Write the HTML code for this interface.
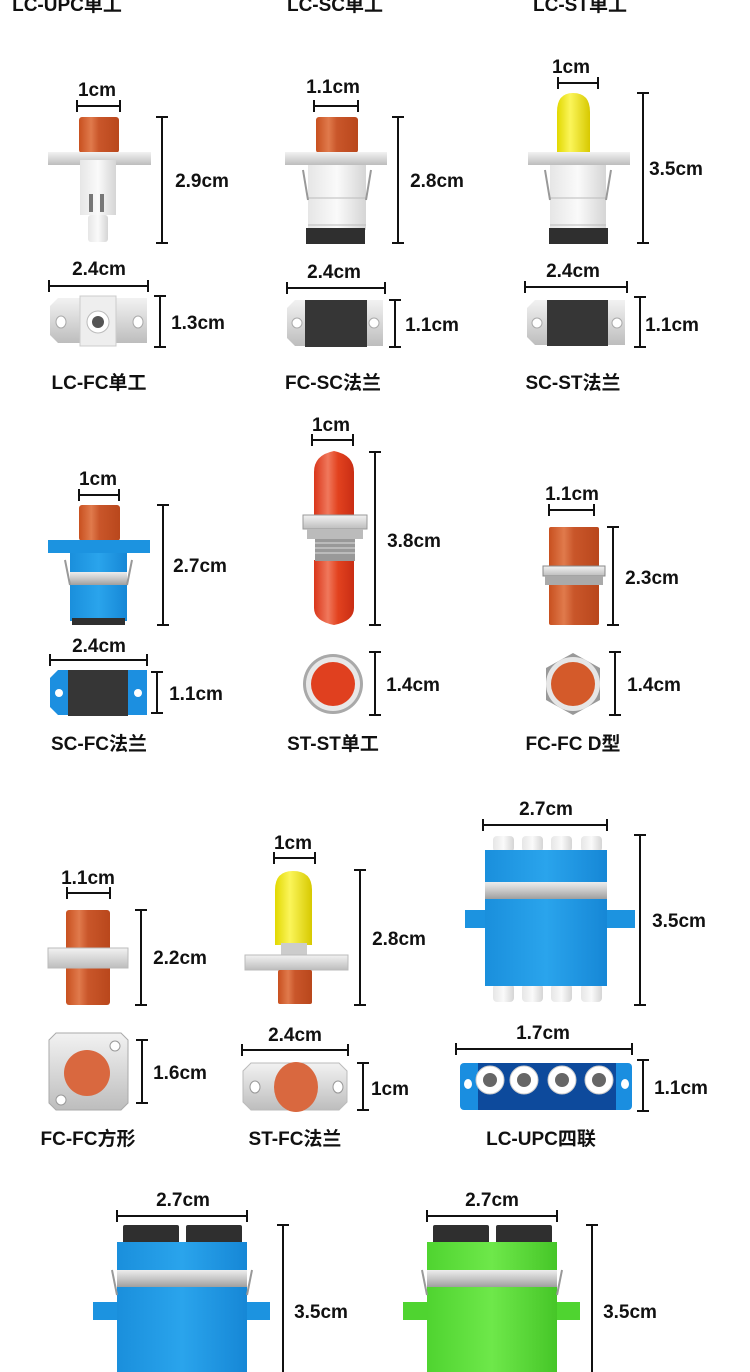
<!DOCTYPE html>
<html><head><meta charset="utf-8"><style>
html,body{margin:0;padding:0;background:#fff;}
svg{display:block}
text{font-family:"Liberation Sans","Noto Sans CJK SC",sans-serif;font-weight:bold;font-size:19px;fill:#111;text-anchor:middle;}
.d{stroke:#111;stroke-width:2;fill:none}
</style></head><body>
<svg width="750" height="1372" viewBox="0 0 750 1372" xmlns="http://www.w3.org/2000/svg">
<defs>
<linearGradient id="or" x1="0" x2="1"><stop offset="0" stop-color="#c8501f"/><stop offset=".3" stop-color="#e07a4c"/><stop offset=".5" stop-color="#c9562a"/><stop offset="1" stop-color="#b9471c"/></linearGradient>
<linearGradient id="rd" x1="0" x2="1"><stop offset="0" stop-color="#d9361a"/><stop offset=".35" stop-color="#f0785c"/><stop offset=".6" stop-color="#e2421f"/><stop offset="1" stop-color="#c92d14"/></linearGradient>
<linearGradient id="ye" x1="0" x2="1"><stop offset="0" stop-color="#e2d800"/><stop offset=".4" stop-color="#fbf55a"/><stop offset="1" stop-color="#d7c900"/></linearGradient>
<linearGradient id="si" x1="0" y1="0" x2="0" y2="1"><stop offset="0" stop-color="#f2f2f2"/><stop offset=".5" stop-color="#d8d8d8"/><stop offset="1" stop-color="#bdbdbd"/></linearGradient>
<linearGradient id="wh" x1="0" x2="1"><stop offset="0" stop-color="#e6e6e6"/><stop offset=".5" stop-color="#fafafa"/><stop offset="1" stop-color="#d5d5d5"/></linearGradient>
<linearGradient id="bl" x1="0" x2="1"><stop offset="0" stop-color="#1a8fdc"/><stop offset=".5" stop-color="#2aa4ec"/><stop offset="1" stop-color="#1687d6"/></linearGradient>
<linearGradient id="gr" x1="0" x2="1"><stop offset="0" stop-color="#4fd430"/><stop offset=".5" stop-color="#6ee84a"/><stop offset="1" stop-color="#46c628"/></linearGradient>
<linearGradient id="band" x1="0" y1="0" x2="0" y2="1"><stop offset="0" stop-color="#ededed"/><stop offset=".5" stop-color="#c8c8c8"/><stop offset="1" stop-color="#9f9f9f"/></linearGradient>
</defs>

<text x="67" y="11">LC-UPC单工</text>
<text x="335" y="11">LC-SC单工</text>
<text x="580" y="11">LC-ST单工</text>

<!-- A -->
<text x="97" y="96">1cm</text>
<path class="d" d="M77 106H120M77 100V112M120 100V112"/>
<rect x="79" y="117" width="40" height="36" rx="3" fill="url(#or)"/>
<rect x="48" y="152" width="103" height="13" fill="url(#si)"/>
<rect x="80" y="160" width="36" height="55" fill="url(#wh)"/>
<rect x="89" y="194" width="4" height="18" fill="#777"/><rect x="100" y="194" width="4" height="18" fill="#777"/>
<rect x="88" y="215" width="20" height="27" rx="3" fill="url(#wh)"/>
<path class="d" d="M162 117V243M156 117H168M156 243H168"/>
<text x="202" y="187">2.9cm</text>
<text x="99" y="275">2.4cm</text>
<path class="d" d="M49 286H148M49 280V292M148 280V292"/>
<path d="M58 298H147V343H58L50 335V306Z" fill="url(#si)"/>
<rect x="80" y="296" width="36" height="50" fill="#eee" stroke="#ccc"/>
<circle cx="98" cy="322" r="11" fill="#fff" stroke="#bbb"/><circle cx="98" cy="322" r="6" fill="#555"/>
<ellipse cx="61" cy="322" rx="5" ry="6" fill="#fff" stroke="#aaa"/><ellipse cx="138" cy="322" rx="5" ry="6" fill="#fff" stroke="#aaa"/>
<path class="d" d="M160 296V347M154 296H166M154 347H166"/>
<text x="198" y="329">1.3cm</text>
<text x="99" y="389">LC-FC单工</text>

<!-- B -->
<text x="333" y="93">1.1cm</text>
<path class="d" d="M314 106H358M314 100V112M358 100V112"/>
<rect x="316" y="117" width="42" height="36" rx="3" fill="url(#or)"/>
<rect x="285" y="152" width="102" height="13" fill="url(#si)"/>
<rect x="308" y="165" width="58" height="65" fill="url(#wh)"/>
<path d="M308 198H366M308 225H366" stroke="#bbb"/>
<path d="M303 170L308 200M371 170L366 200" stroke="#999" stroke-width="2"/>
<rect x="306" y="228" width="59" height="16" fill="#2f2f2f"/>
<path class="d" d="M398 117V243M392 117H404M392 243H404"/>
<text x="437" y="187">2.8cm</text>
<text x="334" y="278">2.4cm</text>
<path class="d" d="M287 288H385M287 282V294M385 282V294"/>
<path d="M295 300H383V346H295L287 338V308Z" fill="url(#si)"/>
<rect x="305" y="300" width="62" height="47" fill="#363636"/>
<circle cx="297" cy="323" r="5" fill="#fff" stroke="#aaa"/><circle cx="374" cy="323" r="5" fill="#fff" stroke="#aaa"/>
<path class="d" d="M395 300V347M389 300H401M389 347H401"/>
<text x="432" y="331">1.1cm</text>
<text x="333" y="389">FC-SC法兰</text>

<!-- C -->
<text x="571" y="73">1cm</text>
<path class="d" d="M558 83H598M558 77V89M598 77V89"/>
<path d="M557 153V112Q557 93 573 93Q590 93 590 112V153Z" fill="url(#ye)"/>
<rect x="528" y="152" width="102" height="13" fill="url(#si)"/>
<rect x="550" y="165" width="56" height="65" fill="url(#wh)"/>
<path d="M550 198H606M550 225H606" stroke="#bbb"/>
<path d="M545 170L550 200M611 170L606 200" stroke="#999" stroke-width="2"/>
<rect x="549" y="228" width="59" height="16" fill="#2f2f2f"/>
<path class="d" d="M643 93V243M637 93H649M637 243H649"/>
<text x="676" y="175">3.5cm</text>
<text x="573" y="277">2.4cm</text>
<path class="d" d="M525 287H627M525 281V293M627 281V293"/>
<path d="M535 300H625V345H535L527 337V308Z" fill="url(#si)"/>
<rect x="547" y="300" width="61" height="46" fill="#363636"/>
<circle cx="537" cy="323" r="5" fill="#fff" stroke="#aaa"/><circle cx="617" cy="323" r="5" fill="#fff" stroke="#aaa"/>
<path class="d" d="M640 297V347M634 297H646M634 347H646"/>
<text x="672" y="331">1.1cm</text>
<text x="573" y="389">SC-ST法兰</text>

<!-- D -->
<text x="98" y="485">1cm</text>
<path class="d" d="M79 495H119M79 489V501M119 489V501"/>
<rect x="79" y="505" width="41" height="36" rx="3" fill="url(#or)"/>
<rect x="48" y="540" width="102" height="13" fill="#1c93e0"/>
<rect x="70" y="553" width="57" height="68" fill="url(#bl)"/>
<rect x="70" y="572" width="57" height="13" fill="url(#band)"/>
<path d="M65 560L70 585M132 560L127 585" stroke="#999" stroke-width="2"/>
<rect x="72" y="618" width="53" height="7" fill="#2f2f2f"/>
<path class="d" d="M163 505V625M157 505H169M157 625H169"/>
<text x="200" y="572">2.7cm</text>
<text x="99" y="652">2.4cm</text>
<path class="d" d="M50 660H147M50 654V666M147 654V666"/>
<path d="M58 670H147V715H58L50 707V678Z" fill="#1c8fe0"/>
<rect x="68" y="670" width="60" height="46" fill="#363636"/>
<circle cx="59" cy="693" r="4" fill="#fff"/><circle cx="138" cy="693" r="4" fill="#fff"/>
<path class="d" d="M157 672V713M151 672H163M151 713H163"/>
<text x="196" y="700">1.1cm</text>
<text x="99" y="750">SC-FC法兰</text>

<!-- E -->
<text x="331" y="431">1cm</text>
<path class="d" d="M312 440H353M312 434V446M353 434V446"/>
<path d="M314 518V472Q314 455 334 451Q354 455 354 472V518Z" fill="url(#rd)"/>
<path d="M314 560V608Q314 621 334 625Q354 621 354 608V560Z" fill="url(#rd)"/>
<rect x="303" y="515" width="64" height="14" fill="url(#si)" stroke="#999"/>
<rect x="307" y="529" width="56" height="10" fill="#bbb"/>
<rect x="315" y="539" width="40" height="22" fill="#999"/>
<path d="M315 543H355M315 548H355M315 553H355" stroke="#ddd"/>
<path class="d" d="M375 452V625M369 452H381M369 625H381"/>
<text x="414" y="547">3.8cm</text>
<circle cx="333" cy="684" r="30" fill="#a9a9a9"/><circle cx="333" cy="684" r="27" fill="#e8e8e8"/>
<circle cx="333" cy="684" r="22" fill="#e0401f"/>
<path class="d" d="M375 652V715M369 652H381M369 715H381"/>
<text x="413" y="691">1.4cm</text>
<text x="333" y="750">ST-ST单工</text>

<!-- F -->
<text x="572" y="500">1.1cm</text>
<path class="d" d="M549 510H594M549 504V516M594 504V516"/>
<rect x="549" y="527" width="50" height="98" rx="2" fill="url(#or)"/>
<rect x="543" y="566" width="62" height="10" fill="url(#si)" stroke="#888"/>
<rect x="545" y="576" width="58" height="9" fill="#aaa"/>
<path class="d" d="M613 527V625M607 527H619M607 625H619"/>
<text x="652" y="584">2.3cm</text>
<polygon points="573,653 600,668 600,700 573,715 546,700 546,668" fill="#999"/>
<circle cx="573" cy="684" r="27" fill="#e6e6e6"/>
<circle cx="573" cy="684" r="22" fill="#d45a2a"/>
<path class="d" d="M615 652V715M609 652H621M609 715H621"/>
<text x="654" y="691">1.4cm</text>
<text x="573" y="750">FC-FC D型</text>

<!-- G -->
<text x="88" y="884">1.1cm</text>
<path class="d" d="M67 893H110M67 887V899M110 887V899"/>
<rect x="66" y="910" width="44" height="95" rx="3" fill="url(#or)"/>
<rect x="48" y="948" width="80" height="20" fill="url(#si)" stroke="#bbb"/>
<path class="d" d="M141 910V1005M135 910H147M135 1005H147"/>
<text x="180" y="964">2.2cm</text>
<path d="M56 1033H121L128 1040V1103L121 1110H56L49 1103V1040Z" fill="url(#si)" stroke="#aaa"/>
<circle cx="87" cy="1073" r="23" fill="#d9683f"/>
<circle cx="115" cy="1046" r="5" fill="#fff" stroke="#999"/><circle cx="61" cy="1100" r="5" fill="#fff" stroke="#999"/>
<path class="d" d="M142 1040V1103M136 1040H148M136 1103H148"/>
<text x="180" y="1079">1.6cm</text>
<text x="88" y="1145">FC-FC方形</text>

<!-- H -->
<text x="293" y="849">1cm</text>
<path class="d" d="M274 858H315M274 852V864M315 852V864"/>
<path d="M275 945V890Q275 871 293 871Q312 871 312 890V945Z" fill="url(#ye)"/>
<rect x="281" y="943" width="26" height="13" fill="#ccc"/>
<rect x="245" y="955" width="103" height="15" fill="url(#si)" stroke="#bbb"/>
<rect x="278" y="970" width="34" height="34" rx="2" fill="url(#or)"/>
<path class="d" d="M360 870V1005M354 870H366M354 1005H366"/>
<text x="399" y="945">2.8cm</text>
<text x="295" y="1041">2.4cm</text>
<path class="d" d="M242 1050H348M242 1044V1056M348 1044V1056"/>
<path d="M251 1063H339L347 1071V1102L339 1110H251L243 1102V1071Z" fill="url(#si)" stroke="#bbb"/>
<ellipse cx="296" cy="1087" rx="22" ry="25" fill="#d9683f"/>
<ellipse cx="255" cy="1087" rx="5" ry="6" fill="#fff" stroke="#999"/><ellipse cx="338" cy="1087" rx="5" ry="6" fill="#fff" stroke="#999"/>
<path class="d" d="M363 1063V1110M357 1063H369M357 1110H369"/>
<text x="390" y="1095">1cm</text>
<text x="295" y="1145">ST-FC法兰</text>

<!-- I -->
<text x="546" y="815">2.7cm</text>
<path class="d" d="M483 825H607M483 819V831M607 819V831"/>
<g fill="url(#wh)">
<rect x="493" y="836" width="21" height="16" rx="4"/><rect x="522" y="836" width="21" height="16" rx="4"/><rect x="551" y="836" width="21" height="16" rx="4"/><rect x="581" y="836" width="21" height="16" rx="4"/>
<rect x="493" y="984" width="21" height="18" rx="4"/><rect x="522" y="984" width="21" height="18" rx="4"/><rect x="551" y="984" width="21" height="18" rx="4"/><rect x="581" y="984" width="21" height="18" rx="4"/>
</g>
<rect x="465" y="910" width="170" height="18" fill="#1c93e0"/>
<rect x="485" y="850" width="122" height="136" fill="url(#bl)"/>
<rect x="485" y="882" width="122" height="17" fill="url(#band)"/>
<path class="d" d="M640 835V1005M634 835H646M634 1005H646"/>
<text x="679" y="927">3.5cm</text>
<text x="543" y="1039">1.7cm</text>
<path class="d" d="M456 1049H632M456 1043V1055M632 1043V1055"/>
<rect x="460" y="1063" width="172" height="47" rx="4" fill="#1a8ee0"/>
<rect x="478" y="1063" width="138" height="47" fill="#0d4a9c"/>
<g fill="#fff" stroke="#ccc"><circle cx="490" cy="1080" r="14"/><circle cx="524" cy="1080" r="14"/><circle cx="562" cy="1080" r="14"/><circle cx="599" cy="1080" r="14"/></g>
<g fill="#666"><circle cx="490" cy="1080" r="7"/><circle cx="524" cy="1080" r="7"/><circle cx="562" cy="1080" r="7"/><circle cx="599" cy="1080" r="7"/></g>
<ellipse cx="468" cy="1084" rx="4" ry="5" fill="#fff"/><ellipse cx="625" cy="1084" rx="4" ry="5" fill="#fff"/>
<path class="d" d="M643 1060V1111M637 1060H649M637 1111H649"/>
<text x="681" y="1094">1.1cm</text>
<text x="541" y="1145">LC-UPC四联</text>

<!-- J -->
<text x="183" y="1206">2.7cm</text>
<path class="d" d="M117 1216H247M117 1210V1222M247 1210V1222"/>
<rect x="123" y="1225" width="56" height="20" rx="2" fill="#2f2f2f"/><rect x="186" y="1225" width="56" height="20" rx="2" fill="#2f2f2f"/>
<rect x="93" y="1302" width="177" height="18" fill="#1c93e0"/>
<rect x="117" y="1242" width="130" height="130" fill="url(#bl)"/>
<rect x="117" y="1270" width="130" height="17" fill="url(#band)"/>
<path d="M112 1270L117 1295M252 1270L247 1295" stroke="#999" stroke-width="2"/>
<path class="d" d="M283 1225V1372M277 1225H289"/>
<text x="321" y="1318">3.5cm</text>

<!-- K -->
<text x="492" y="1206">2.7cm</text>
<path class="d" d="M427 1216H557M427 1210V1222M557 1210V1222"/>
<rect x="433" y="1225" width="56" height="20" rx="2" fill="#2f2f2f"/><rect x="496" y="1225" width="56" height="20" rx="2" fill="#2f2f2f"/>
<rect x="403" y="1302" width="177" height="18" fill="#4fd430"/>
<rect x="427" y="1242" width="130" height="130" fill="url(#gr)"/>
<rect x="427" y="1270" width="130" height="17" fill="url(#band)"/>
<path d="M422 1270L427 1295M562 1270L557 1295" stroke="#999" stroke-width="2"/>
<path class="d" d="M592 1225V1372M586 1225H598"/>
<text x="630" y="1318">3.5cm</text>
</svg>
</body></html>
